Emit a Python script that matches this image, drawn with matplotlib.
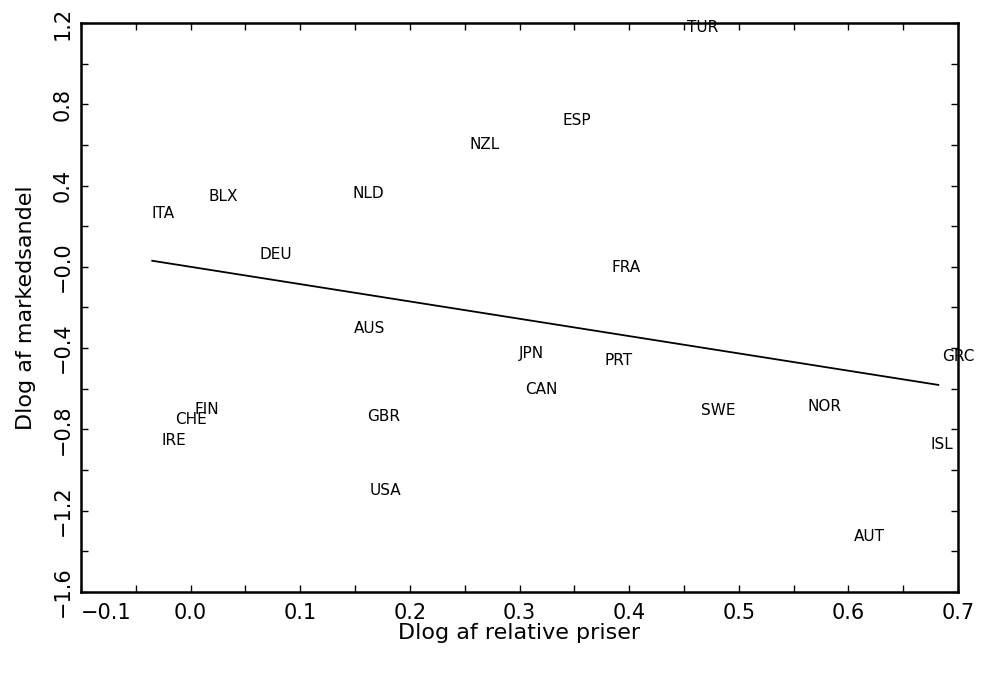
import matplotlib.pyplot as plt
import numpy as np

# lande og placering (Dlog af relative priser, Dlog af markedsandel)
lande = ['TUR', 'ESP', 'NZL', 'NLD', 'BLX', 'ITA', 'DEU', 'FRA', 'AUS', 'JPN', 'PRT',
         'CAN', 'GRC', 'FIN', 'CHE', 'GBR', 'SWE', 'NOR', 'IRE', 'ISL', 'USA', 'AUT']
priser = [0.467, 0.352, 0.268, 0.162, 0.030, -0.025, 0.078, 0.397, 0.163, 0.311, 0.390,
          0.320, 0.700, 0.015, 0.000, 0.176, 0.481, 0.578, -0.015, 0.685, 0.178, 0.619]
andel = [1.177, 0.719, 0.601, 0.360, 0.345, 0.261, 0.059, -0.005, -0.305, -0.424, -0.463,
         -0.606, -0.443, -0.704, -0.749, -0.734, -0.709, -0.685, -0.857, -0.872, -1.103, -1.325]

# regressionslinje
linje_x = [-0.035, 0.682]
linje_y = [0.030, -0.581]

xticks = [-0.1, 0.0, 0.1, 0.2, 0.3, 0.4, 0.5, 0.6, 0.7]
xlabels = ['\u22120.1', '0.0', '0.1', '0.2', '0.3', '0.4', '0.5', '0.6', '0.7']
yticks = [-1.6, -1.2, -0.8, -0.4, 0.0, 0.4, 0.8, 1.2]
ylabels = ['\u22121.6', '\u22121.2', '\u22120.8', '\u22120.4', '\u22120.0', '0.4', '0.8', '1.2']

fig = plt.figure(figsize=(9.84, 6.73), dpi=100)
ax = fig.add_axes([0.0823, 0.1204, 0.8913, 0.8454])

ax.plot(linje_x, linje_y, color='black', linewidth=1.3)
for navn, x, y in zip(lande, priser, andel):
    ax.text(x, y, navn, ha='center', va='center', fontsize=11)

ax.set_xlim(-0.1, 0.7)
ax.set_ylim(-1.6, 1.2)
ax.set_xticks(xticks)
ax.set_xticklabels(xlabels, fontsize=15)
ax.set_xticks(np.arange(-0.05, 0.7, 0.1), minor=True)
ax.set_yticks(yticks)
ax.set_yticklabels(ylabels, fontsize=15, rotation=90, va='center')
ax.set_yticks(np.arange(-1.4, 1.2, 0.4), minor=True)
ax.get_xticklabels()[0].set_ha('left')

ax.tick_params(which='both', direction='in', length=5, width=1, top=True, right=True)
ax.tick_params(axis='x', pad=8)
ax.tick_params(axis='y', pad=6)
for s in ax.spines.values():
    s.set_linewidth(1.8)

ax.set_xlabel('Dlog af relative priser', fontsize=16, labelpad=0)
ax.set_ylabel('Dlog af markedsandel', fontsize=16, labelpad=12)

fig.savefig('out.png', dpi=100)
